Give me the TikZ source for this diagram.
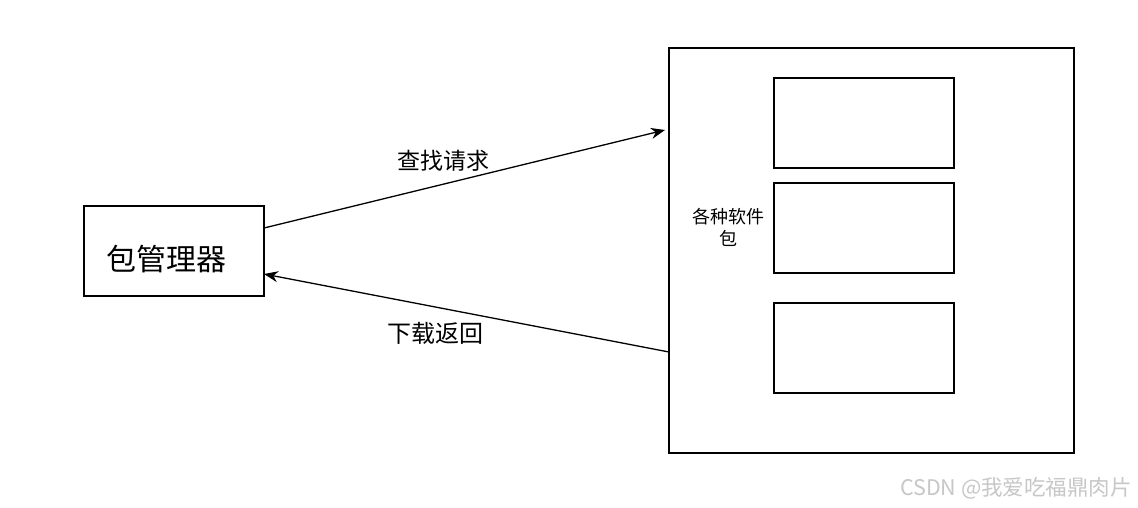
\documentclass[tikz,border=0pt]{standalone}
\usepackage{fontspec}
\setmainfont{Noto Sans CJK SC}
\usetikzlibrary{arrows.meta}
\tikzset{
  box/.style={draw=black, line width=1.3pt, fill=white, inner sep=0pt},
  lbl/.style={inner sep=0pt, text=black},
  conn/.style={line width=1.3pt, -{Stealth[length=14pt,width=11pt,inset=4.5pt]}},
}
\begin{document}
\begin{tikzpicture}[x=1pt,y=-1pt]
\useasboundingbox[fill=white] (0,0) rectangle (1138,507);
\node[box, minimum width=180pt, minimum height=90pt] (pm) at (174,251) {};
\node[lbl, font=\fontsize{30pt}{34pt}\selectfont] (pmt) at (166,259) {包管理器};
\node[box, minimum width=405pt, minimum height=405pt] (repo) at (871.5,250.5) {};
\node[box, minimum width=180pt, minimum height=90pt] (b1) at (864,123) {};
\node[box, minimum width=180pt, minimum height=90pt] (b2) at (864,228) {};
\node[box, minimum width=180pt, minimum height=90pt] (b3) at (864,348) {};
\node[lbl, font=\fontsize{18pt}{22pt}\selectfont, align=center] (repot) at (728,227) {各种软件\\包};
\coordinate (a1s) at (264,228);
\coordinate (a1e) at (665,130);
\coordinate (a2s) at (669,352);
\coordinate (a2e) at (264,274);
\draw[conn] (a1s) -- (a1e);
\draw[conn] (a2s) -- (a2e);
\node[lbl, font=\fontsize{23pt}{26pt}\selectfont] (q) at (443,161) {查找请求};
\node[lbl, font=\fontsize{24pt}{27pt}\selectfont] (d) at (435,333) {下载返回};
\node[lbl, font=\fontsize{21.5pt}{24pt}\selectfont, text=black!22] (wm) at (1016,488) {CSDN @我爱吃福鼎肉片};
\end{tikzpicture}
\end{document}
